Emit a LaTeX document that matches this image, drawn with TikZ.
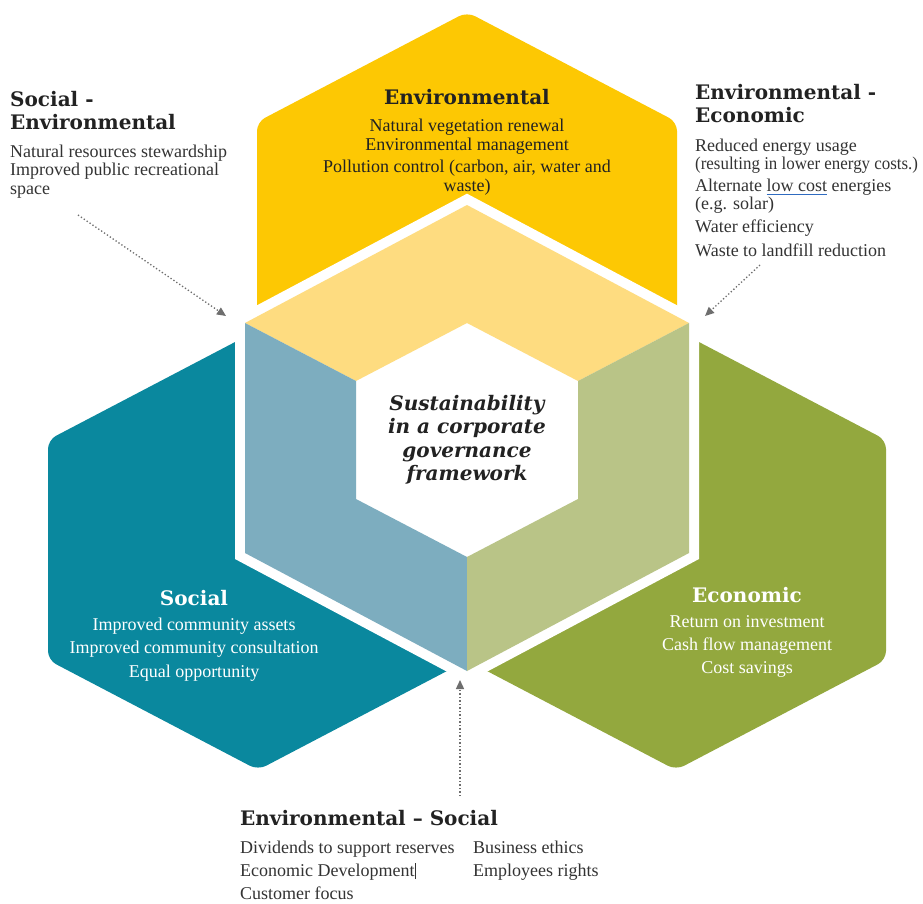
\documentclass[tikz,border=0pt]{standalone}
\usepackage{graphicx}
\usepackage{fontspec}
\setmainfont{Liberation Serif}
\newfontfamily\headfont{DejaVu Serif}
\usetikzlibrary{arrows.meta}
\definecolor{cYellow}{HTML}{FDC803}
\definecolor{cYellowLight}{HTML}{FEDC80}
\definecolor{cTeal}{HTML}{0A889E}
\definecolor{cTealLight}{HTML}{7DADBF}
\definecolor{cGreen}{HTML}{93A83E}
\definecolor{cGreenLight}{HTML}{B9C487}
\definecolor{textdark}{HTML}{222222}
\definecolor{textbody}{HTML}{333333}
\definecolor{arrowgrey}{HTML}{6E6E6E}
\definecolor{ulblue}{HTML}{2F6BC0}
\newcommand\blueul[1]{\setbox0\hbox{#1}\rlap{\color{ulblue}\rule[-2.8pt]{\wd0}{0.9pt}}\box0\relax}
\begin{document}
\begin{tikzpicture}[x=1pt,y=-1pt,
  hexshape/.style={rounded corners=9pt},
  headtxt/.style={font=\headfont\bfseries\fontsize{20}{22}\selectfont, text=textdark, inner sep=0pt},
  bodytxt/.style={font=\fontsize{18}{19}\selectfont, text=textbody, inner sep=0pt},
  centretxt/.style={font=\headfont\bfseries\itshape\fontsize{20}{23}\selectfont, text=textdark, inner sep=0pt},
  dotarrow/.style={draw=arrowgrey, line width=1.3pt, dash pattern=on 1.3pt off 2.2pt, -{Triangle[length=9pt,width=8pt,fill=arrowgrey]}}
]
\useasboundingbox (0,0) rectangle (923,904);
\fill[white] (0,0) rectangle (923,904);

% outer hexagons
\fill[cYellow, hexshape] (467,12) -- (677,122) -- (677,342) -- (467,452) -- (257,342) -- (257,122) -- cycle;
\fill[cTeal, hexshape] (258,330) -- (468,440) -- (468,660) -- (258,770) -- (48,660) -- (48,440) -- cycle;
\fill[cGreen, hexshape] (676,330) -- (886,440) -- (886,660) -- (676,770) -- (466,660) -- (466,440) -- cycle;

% central hexagon with white border
\filldraw[white, line width=20pt, line join=miter] (467,205) -- (689,323) -- (689,553) -- (467,671) -- (245,553) -- (245,323) -- cycle;
\fill[cYellowLight] (245,323) -- (467,205) -- (689,323) -- (578,381) -- (467,323) -- (356,381) -- cycle;
\fill[cTealLight] (245,323) -- (356,381) -- (356,499) -- (467,557) -- (467,671) -- (245,553) -- cycle;
\fill[cGreenLight] (689,323) -- (689,553) -- (467,671) -- (467,557) -- (578,499) -- (578,381) -- cycle;

% centre text
\node[centretxt, anchor=base] (c1) at (467,410) {Sustainability};
\node[centretxt, anchor=base] (c2) at (467,433) {in a corporate};
\node[centretxt, anchor=base] (c3) at (467,457) {governance};
\node[centretxt, anchor=base] (c4) at (467,480) {framework};

% Environmental hexagon text
\node[headtxt, anchor=base] (envh) at (467,105) {Environmental};
\node[bodytxt, text=textdark, anchor=base] (env1) at (467,132) {Natural vegetation renewal};
\node[bodytxt, text=textdark, anchor=base] (env2) at (467,151) {Environmental management};
\node[bodytxt, text=textdark, anchor=base] (env3) at (467,173) {Pollution control (carbon, air, water and};
\node[bodytxt, text=textdark, anchor=base] (env4) at (467,192) {waste)};

% Social hexagon text
\node[headtxt, text=white, anchor=base] (soch) at (194,605) {Social};
\node[bodytxt, text=white, anchor=base] (soc1) at (194,630) {Improved community assets};
\node[bodytxt, text=white, anchor=base] (soc2) at (194,653) {Improved community consultation};
\node[bodytxt, text=white, anchor=base] (soc3) at (194,677) {Equal opportunity};

% Economic hexagon text
\node[headtxt, text=white, anchor=base] (ecoh) at (747,602) {Economic};
\node[bodytxt, text=white, anchor=base] (eco1) at (747,627) {Return on investment};
\node[bodytxt, text=white, anchor=base] (eco2) at (747,650) {Cash flow management};
\node[bodytxt, text=white, anchor=base] (eco3) at (747,673) {Cost savings};

% Social - Environmental (top left)
\node[headtxt, anchor=base west] (seh1) at (10,107) {Social -};
\node[headtxt, anchor=base west] (seh2) at (10,130) {Environmental};
\node[bodytxt, anchor=base west] (se1) at (10,158) {Natural resources stewardship};
\node[bodytxt, anchor=base west] (se2) at (10,176) {Improved public recreational};
\node[bodytxt, anchor=base west] (se3) at (10,194) {space};

% Environmental - Economic (top right)
\node[headtxt, anchor=base west] (eeh1) at (695,100) {Environmental -};
\node[headtxt, anchor=base west] (eeh2) at (695,123) {Economic};
\node[bodytxt, anchor=base west] (ee1) at (695,152) {Reduced energy usage};
\node[bodytxt, anchor=base west] (ee2) at (695,170) {\scalebox{0.94}[1]{(resulting in lower energy costs.)}};
\node[bodytxt, anchor=base west] (ee3) at (695,192) {Alternate \blueul{low cost} energies};
\node[bodytxt, anchor=base west] (ee4) at (695,210) {(e.g. solar)};
\node[bodytxt, anchor=base west] (ee5) at (695,233) {Water efficiency};
\node[bodytxt, anchor=base west] (ee6) at (695,256) {Waste to landfill reduction};

% Environmental - Social (bottom)
\node[headtxt, anchor=base west] (esh) at (240,825) {Environmental \textendash{} Social};
\node[bodytxt, anchor=base west] (es1) at (240,853) {Dividends to support reserves};
\node[bodytxt, anchor=base west] (es2) at (240,876) {Economic Development\rule[-3pt]{0.8pt}{16pt}};
\node[bodytxt, anchor=base west] (es3) at (240,899) {Customer focus};
\node[bodytxt, anchor=base west] (es4) at (473,853) {Business ethics};
\node[bodytxt, anchor=base west] (es5) at (473,876) {Employees rights};

% dotted arrows
\coordinate (a1s) at (78,215);
\coordinate (a1e) at (226,316);
\coordinate (a2s) at (760,265);
\coordinate (a2e) at (705,316);
\coordinate (a3s) at (460,796);
\coordinate (a3e) at (460,680);
\draw[dotarrow] (a1s) -- (a1e);
\draw[dotarrow] (a2s) -- (a2e);
\draw[dotarrow] (a3s) -- (a3e);
\end{tikzpicture}
\end{document}
